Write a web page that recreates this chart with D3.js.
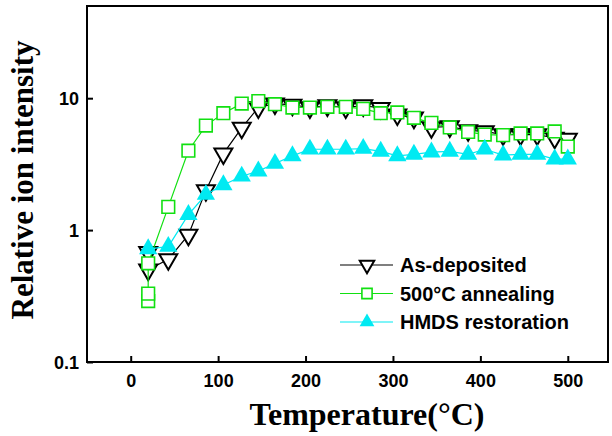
<!DOCTYPE html>
<html>
<head>
<meta charset="utf-8">
<script src="https://cdn.jsdelivr.net/npm/d3@7"></script>
<style>
  body { margin: 0; background: #fff; }
  svg { display: block; }
</style>
</head>
<body>
<svg id="chart" width="612" height="436"></svg>
<script>
// temperatures (°C)
var temps = [20, 43, 66, 86, 106, 127, 146, 165, 185, 205, 225, 246, 266, 286, 305, 324, 344, 365, 386, 405, 426, 446, 465, 485, 500];

// extra room temperature repeats
var asDepTemps = [20].concat(temps);
var annealTemps = [20, 20].concat(temps);
var hmdsTemps = temps;

var asDeposited = [0.68, 0.5, 0.6, 0.92, 2.0, 3.8, 5.95, 8.5, 9.1, 8.9, 8.5, 8.8, 8.5, 8.8, 8.4, 7.5, 7.1, 6.0, 6.1, 5.7, 5.6, 5.3, 5.3, 5.3, 5.0, 4.9];
var annealed = [0.29, 0.33, 0.56, 1.5, 4.0, 6.2, 7.7, 9.1, 9.5, 9.0, 8.5, 8.5, 8.6, 8.6, 8.3, 7.7, 7.8, 7.1, 6.5, 6.0, 5.55, 5.3, 5.25, 5.4, 5.4, 5.6, 4.3];
var hmds = [0.72, 0.75, 1.31, 1.86, 2.2, 2.56, 2.8, 3.2, 3.65, 4.1, 4.1, 4.1, 4.15, 3.95, 3.65, 3.75, 3.9, 3.95, 3.75, 4.1, 3.7, 3.75, 3.75, 3.45, 3.45];

var xTicks = [0, 100, 200, 300, 400, 500];
var yTicks = [0.1, 1, 10];
var legendNames = ["As-deposited", "500°C annealing", "HMDS restoration"];

var svg = d3.select("#chart");
var padL = 87, padR = 608, padT = 6, padB = 362;

var x = d3.scaleLinear().domain([-50, 546]).range([padL, padR]);
var y = d3.scaleLog().domain([0.1, 50]).range([padB, padT]);

svg.append("rect").attr("width", 612).attr("height", 436).attr("fill", "#fff");

// ticks (inward)
var xAxis = svg.append("g").attr("transform", "translate(0," + padB + ")")
  .call(d3.axisBottom(x).tickValues(xTicks).tickSize(-6).tickPadding(12).tickFormat(d3.format("d")));
var yAxis = svg.append("g").attr("transform", "translate(" + padL + ",0)")
  .call(d3.axisLeft(y).tickValues(yTicks).tickSize(-6).tickPadding(8).tickFormat(function(d){ return d < 1 ? "0.1" : d3.format("d")(d); }));

[xAxis, yAxis].forEach(function(a){
  a.select(".domain").remove();
  a.selectAll(".tick line").attr("stroke", "#000").attr("stroke-width", 2);
  a.selectAll(".tick text")
    .attr("fill", "#000")
    .style("font-family", "'Liberation Sans', Arial, sans-serif")
    .style("font-weight", "bold")
    .style("font-size", "18px");
});
yAxis.selectAll(".tick text").attr("dy", "0.35em");

// frame
svg.append("rect")
  .attr("x", padL).attr("y", padT)
  .attr("width", padR - padL).attr("height", padB - padT)
  .attr("fill", "none").attr("stroke", "#000").attr("stroke-width", 2);

var line = d3.line()
  .x(function(d){ return x(d[0]); })
  .y(function(d){ return y(d[1]); });

var series = [
  { name: legendNames[0], t: asDepTemps, v: asDeposited, color: "#000", sym: d3.symbolTriangle, rot: 180, size: 140, fill: "#fff", sw: 2 },
  { name: legendNames[1], t: annealTemps, v: annealed, color: "#11e011", sym: d3.symbolSquare, rot: 0, size: 160, fill: "#fff", sw: 1.6 },
  { name: legendNames[2], t: hmdsTemps, v: hmds, color: "#00eaf2", sym: d3.symbolTriangle, rot: 0, size: 145, fill: "#00eaf2", sw: 0 }
];

series.forEach(function(s){
  var pts = s.t.map(function(t, i){ return [t, s.v[i]]; });
  svg.append("path")
    .datum(pts)
    .attr("d", line)
    .attr("fill", "none")
    .attr("stroke", s.color)
    .attr("stroke-width", 1.2);
  svg.append("g").selectAll("path")
    .data(pts)
    .enter()
    .append("path")
      .attr("d", d3.symbol().type(s.sym).size(s.size))
      .attr("transform", function(d){ return "translate(" + x(d[0]) + "," + y(d[1]) + ") rotate(" + s.rot + ")"; })
      .attr("fill", s.fill)
      .attr("stroke", s.sw ? s.color : "none")
      .attr("stroke-width", s.sw);
});

// legend
var legend = svg.append("g");
series.forEach(function(s, i){
  var ly = 265 + i * 28.5;
  legend.append("line")
    .attr("x1", 340).attr("x2", 393).attr("y1", ly).attr("y2", ly)
    .attr("stroke", s.color).attr("stroke-width", 1.2);
  legend.append("path")
    .attr("d", d3.symbol().type(s.sym).size(s.size * 0.65))
    .attr("transform", "translate(367," + ly + ") rotate(" + s.rot + ")")
    .attr("fill", s.fill)
    .attr("stroke", s.sw ? s.color : "none")
    .attr("stroke-width", s.sw);
  legend.append("text")
    .attr("x", 400).attr("y", ly).attr("dy", "0.36em")
    .style("font-family", "'Liberation Sans', Arial, sans-serif")
    .style("font-weight", "bold")
    .style("font-size", "20px")
    .text(s.name);
});

// axis titles
svg.append("text")
  .attr("x", 367).attr("y", 425)
  .attr("text-anchor", "middle")
  .style("font-family", "'Liberation Serif', 'Times New Roman', serif")
  .style("font-weight", "bold")
  .style("font-size", "32px")
  .text("Temperature(°C)");

svg.append("text")
  .attr("transform", "translate(33,180) rotate(-90)")
  .attr("text-anchor", "middle")
  .style("font-family", "'Liberation Serif', 'Times New Roman', serif")
  .style("font-weight", "bold")
  .style("font-size", "31px")
  .text("Relative ion intensity");
</script>
</body>
</html>
